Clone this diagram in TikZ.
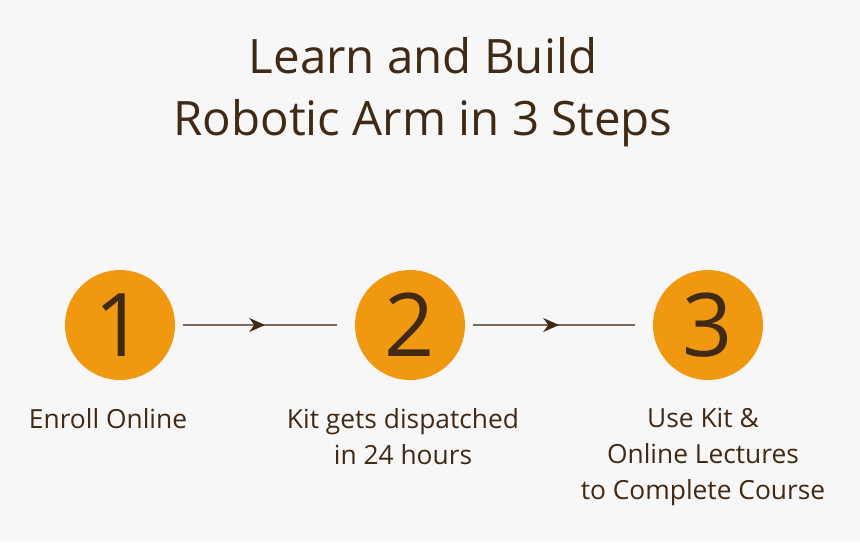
\documentclass[tikz,border=0pt]{standalone}
\usepackage{fontspec}
\setmainfont{Open Sans}
\usetikzlibrary{arrows.meta, positioning, decorations.markings}
\definecolor{bgray}{HTML}{F7F7F7}
\definecolor{stepor}{HTML}{F0980F}
\definecolor{brownd}{HTML}{402A15}
\tikzset{
    stepcircle/.style={circle, fill=stepor, minimum size=110*0.02cm, inner sep=0pt, text=brownd, font=\fontsize{50}{50}\selectfont},
    steplabel/.style={align=center, text=brownd, font=\fontsize{15}{20.4}\selectfont, anchor=north},
    link/.style={draw=brownd!70, line width=0.6pt, shorten <=8*0.02cm, shorten >=18*0.02cm,
        postaction={decorate}, decoration={markings, mark=at position 0.5 with {\arrow[brownd]{Stealth[length=9pt,width=8pt]}}}}
}
\begin{document}
\begin{tikzpicture}[x=0.02cm, y=-0.02cm]
    \fill[bgray] (0,0) rectangle (860,542);
    \useasboundingbox (0,0) rectangle (860,542);

    % Title
    \node (title) [align=center, text=brownd, font=\fontsize{27}{35}\selectfont] at (423,92) {Learn and Build\\Robotic Arm in 3 Steps};

    % Steps
    \node (one) [stepcircle] at (120,325) {1};
    \node (two) [stepcircle] at (410,325) {2};
    \node (three) [stepcircle] at (708,325) {3};

    % Links
    \path [link] (one) -- (two);
    \path [link] (two) -- (three);

    % Labels
    \node (enroll) [steplabel] at (108,402) {Enroll Online};
    \node (kit) [steplabel] at (403,402) {Kit gets dispatched\\in 24 hours};
    \node (use) [steplabel] at (703,402) {Use Kit \&\\Online Lectures\\to Complete Course};
\end{tikzpicture}
\end{document}
